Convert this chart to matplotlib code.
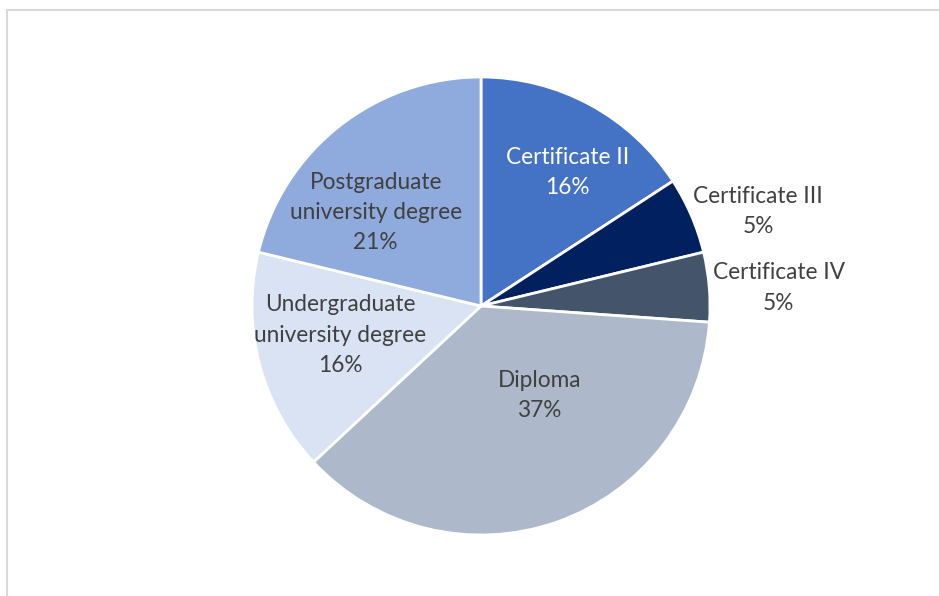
import matplotlib
matplotlib.use("Agg")
import matplotlib.pyplot as plt
from matplotlib.patches import Rectangle

categories = ["Certificate II", "Certificate III", "Certificate IV", "Diploma",
              "Undergraduate\nuniversity degree", "Postgraduate\nuniversity degree"]
values = [15.8, 5.4, 4.9, 36.9, 15.7, 21.2]
colors = ["#4472C4", "#002060", "#44546A", "#ADB9CA", "#DAE3F3", "#8FAADC"]
text_colors = ["white", "#404040", "#404040", "#404040", "#404040", "#404040"]
# label centres relative to pie centre, in units of pie radius
label_pos = [(0.377, 0.583), (1.21, 0.412), (1.30, 0.079), (0.254, -0.390),
             (-0.614, -0.127), (-0.460, 0.408)]

W, H = 939, 596
fig = plt.figure(figsize=(W / 100, H / 100), dpi=100)
fig.patch.set_facecolor("white")

# chart frame (extends past right/bottom of image)
fig.add_artist(Rectangle((7 / W, -0.1), 1.2, 1 - 10 / H + 0.1, transform=fig.transFigure,
                         fill=False, edgecolor="#D9D9D9", linewidth=1.5))

cx, cy, r = 481, 306, 229
ax = fig.add_axes([(cx - r) / W, (H - cy - r) / H, 2 * r / W, 2 * r / H])
ax.axis("off")

ax.pie(values, colors=colors, startangle=90, counterclock=False, radius=1,
       wedgeprops=dict(edgecolor="white", linewidth=2))
ax.set_xlim(-1, 1)
ax.set_ylim(-1, 1)

total = sum(values)
for cat, v, tc, (x, y) in zip(categories, values, text_colors, label_pos):
    ax.text(x, y, f"{cat}\n{round(v / total * 100):.0f}%", ha="center", va="center",
            color=tc, fontsize=16.3, family=["Lato", "DejaVu Sans"], linespacing=1.55,
            clip_on=False)

fig.savefig("out.png", dpi=100, facecolor="white")
